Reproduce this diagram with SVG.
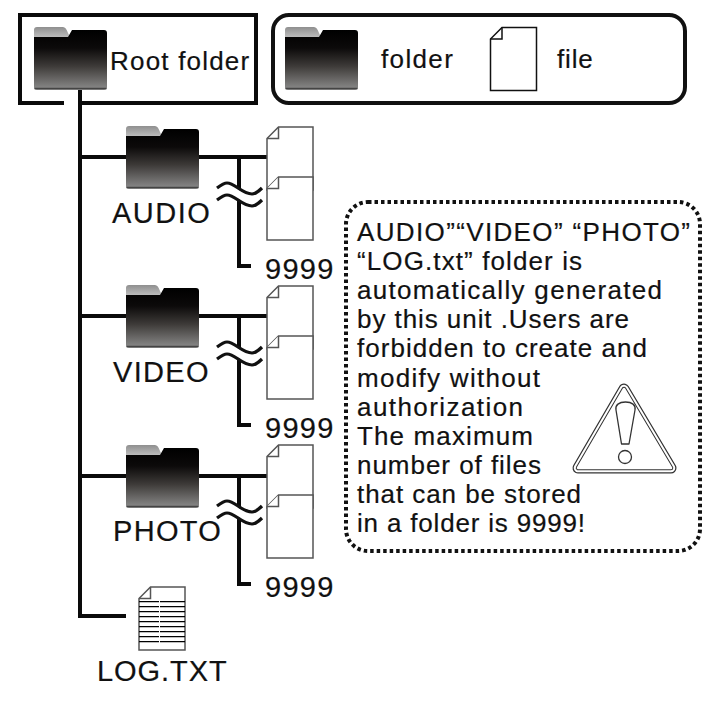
<svg xmlns="http://www.w3.org/2000/svg" width="722" height="709" viewBox="0 0 722 709">
<style>
text{font-family:"Liberation Sans",Arial,sans-serif;fill:#111;stroke:#111;stroke-width:.2}
.l{font-size:29px;letter-spacing:1.3px}
.s{font-size:26px;letter-spacing:1.2px}
.c{font-size:26px}
.w{fill:none;stroke:#111;stroke-width:4}
.f{fill:#fff;stroke:#555;stroke-width:1.5}
.cn{fill:none;stroke:#0a0a0a;stroke-width:4}
.gap{fill:none;stroke:#fff;stroke-width:8}
</style>
<defs>
<linearGradient id="g" x1="0" y1="0" x2="0" y2="1"><stop offset="0" stop-color="#000"/><stop offset=".3" stop-color="#0c0a0a"/><stop offset=".6" stop-color="#3d3a38"/><stop offset="1" stop-color="#8c8c8c"/></linearGradient>
<linearGradient id="h" x1="0" y1="0" x2="0" y2="1"><stop offset="0" stop-color="#8f8f8f"/><stop offset="1" stop-color="#c4c4c4"/></linearGradient>
<g id="folder">
<path d="M0 12V3Q0 0 3 0H29Q32 0 34 6L36 10H0Z" fill="url(#h)"/>
<path d="M0 10H34L38 3H70Q73 3 73 6V60Q73 63 70 63H3Q0 63 0 60Z" fill="url(#g)"/>
<path d="M0.500 61.500H72.500" stroke="#444" stroke-width="1.500"/>
</g>
<g id="file">
<path d="M11.500 0H46V63H0V11.500Z"/>
<path d="M11.500 0V11.500H0" fill="none"/>
</g>
<path id="wave" d="M0 5C4 2 7 0 10 0C18 0 25 11 35 11C39 11 42 8 45 5"/>
<g id="waves">
<use href="#wave" y="6" class="gap"/>
<use href="#wave" fill="none" stroke="#111" stroke-width="3.200"/>
<use href="#wave" y="12" fill="none" stroke="#111" stroke-width="3.200"/>
</g>
</defs>
<rect width="722" height="709" fill="#fff"/>

<g id="connectors">
<path class="cn" d="M64 103H20V15H256V103H80"/>
<path class="cn" d="M80 90V616H126"/>
<path class="cn" d="M80 157H126M198 157H267M239 157V266H251"/>
<path class="cn" d="M80 316H126M198 316H267M239 316V425H251"/>
<path class="cn" d="M80 476H126M198 476H267M239 476V584H251"/>
</g>

<g id="root"><use href="#folder" x="34" y="27"/><text class="s" x="110" y="70">Root folder</text></g>

<g id="legend">
<rect class="w" x="273" y="15" width="412" height="88" rx="16"/>
<use href="#folder" x="285" y="27"/>
<text class="s" x="381" y="68" textLength="73">folder</text>
<use href="#file" x="490.500" y="27.500" fill="#fff" stroke="#111" stroke-width="1.500"/>
<text class="s" x="557" y="68" textLength="37">file</text>
</g>

<g id="audio">
<use href="#folder" x="126" y="126"/>
<text class="l" x="112" y="223" textLength="99">AUDIO</text>
<use href="#file" x="267" y="127" class="f"/>
<path class="f" d="M267 240V188.500L278.500 177H313V240Z"/><path class="f" d="M278.500 177V188.500H267"/>
<use href="#waves" x="217" y="183"/>
<text class="l" x="265" y="279">9999</text>
</g>

<g id="video">
<use href="#folder" x="126" y="285"/>
<text class="l" x="113" y="382">VIDEO</text>
<use href="#file" x="267" y="286" class="f"/>
<path class="f" d="M267 399V347.500L278.500 336H313V399Z"/><path class="f" d="M278.500 336V347.500H267"/>
<use href="#waves" x="217" y="342"/>
<text class="l" x="265" y="438">9999</text>
</g>

<g id="photo">
<use href="#folder" x="126" y="445"/>
<text class="l" x="113" y="541">PHOTO</text>
<use href="#file" x="267" y="445" class="f"/>
<path class="f" d="M267 558V506.500L278.500 495H313V558Z"/><path class="f" d="M278.500 495V506.500H267"/>
<use href="#waves" x="217" y="501"/>
<text class="l" x="265" y="597">9999</text>
</g>

<g id="log">
<use href="#file" x="139" y="587" class="f"/>
<path d="M139 601.700H185M139 606.700H185M139 611.700H185M139 616.700H185M139 621.700H185M139 626.700H185M139 631.700H185M139 636.700H185M139 641.700H185" stroke="#000" stroke-width="1.200"/>
<path d="M159.500 599V643" stroke="#fff" stroke-width="1"/>
<text class="l" x="97" y="681" textLength="131">LOG.TXT</text>
</g>

<g id="note">
<rect x="346" y="202" width="354" height="349" rx="22" fill="none" stroke="#111" stroke-width="4" stroke-dasharray="3.500 3"/>
<text class="c" x="357" y="241" textLength="333">AUDIO”“VIDEO” “PHOTO”</text>
<text class="c" x="357" y="270" textLength="225">“LOG.txt” folder is</text>
<text class="c" x="357" y="299" textLength="305">automatically generated</text>
<text class="c" x="357" y="328" textLength="272">by this unit .Users are</text>
<text class="c" x="357" y="357" textLength="290">forbidden to create and</text>
<text class="c" x="357" y="387" textLength="183">modify without</text>
<text class="c" x="357" y="416" textLength="166">authorization</text>
<text class="c" x="357" y="445" textLength="176">The maximum</text>
<text class="c" x="357" y="474" textLength="184">number of files</text>
<text class="c" x="357" y="503" textLength="224">that can be stored</text>
<text class="c" x="357" y="532" textLength="228">in a folder is 9999!</text>
</g>

<g id="warning" stroke-linejoin="round" fill="none">
<path d="M624 389L578 468H671Z" stroke="#333" stroke-width="11"/>
<path d="M624 389L578 468H671Z" stroke="#fff" stroke-width="8.500"/>
<path d="M624 389L578 468H671Z" stroke="#333" stroke-width="4.500"/>
<path d="M624 389L578 468H671Z" stroke="#fff" stroke-width="2.500" fill="#fff"/>
<path d="M621.500 444L616 410C615 405 619 402 625.500 402C632 402 636 405 635 410L629 444Z" stroke="#333" stroke-width="1.300"/>
<circle cx="625" cy="457" r="6.500" stroke="#333" stroke-width="1.300"/>
</g>
</svg>
